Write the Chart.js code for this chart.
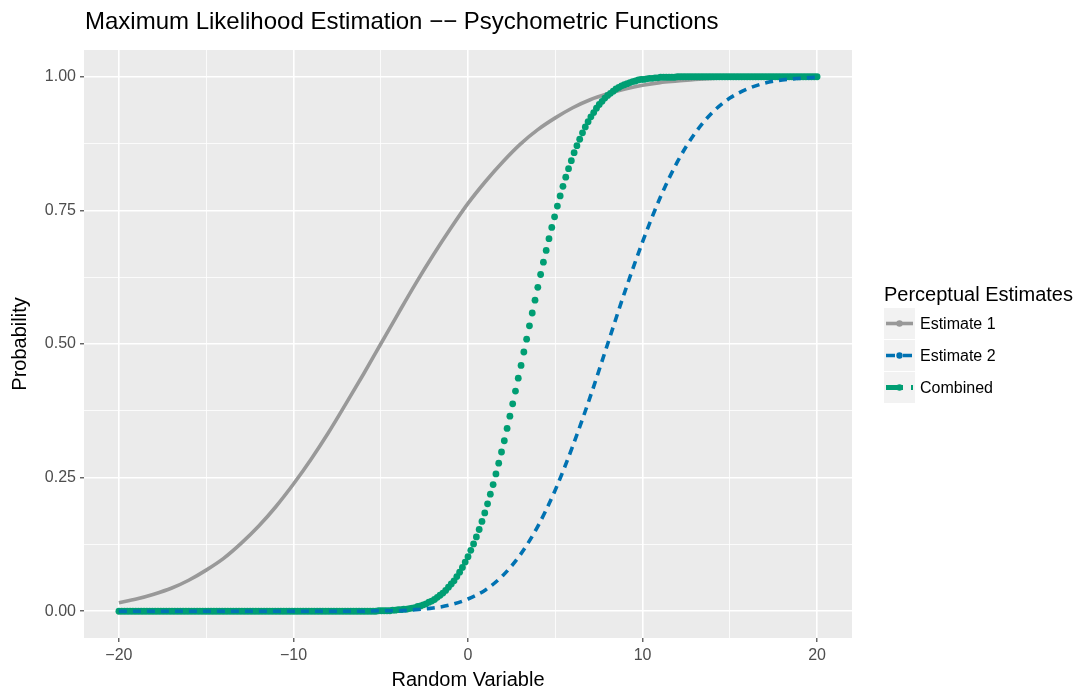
<!DOCTYPE html>
<html>
<head>
<meta charset="utf-8">
<title>Maximum Likelihood Estimation −− Psychometric Functions</title>
<script src="https://cdn.jsdelivr.net/npm/chart.js@4.4.1/dist/chart.umd.min.js"></script>
<style>
  html, body { margin: 0; padding: 0; background: #ffffff; }
  canvas { display: block; }
</style>
</head>
<body>
<canvas id="psychChart" width="1084" height="688"></canvas>
<script>
const FONT = '"Liberation Sans", Arial, Helvetica, sans-serif';

const chartTitle = 'Maximum Likelihood Estimation \u2212\u2212 Psychometric Functions';
const legendTitle = 'Perceptual Estimates';
const seriesNames = ['Estimate 1', 'Estimate 2', 'Combined'];

// single-cue estimates, one value per unit of the random variable
const cueX = [
  -20, -19, -18, -17, -16, -15, -14, -13, -12, -11,
  -10, -9, -8, -7, -6, -5, -4, -3, -2, -1,
  0, 1, 2, 3, 4, 5, 6, 7, 8, 9,
  10, 11, 12, 13, 14, 15, 16, 17, 18, 19,
  20
];
const estimate1 = [
  0.016, 0.023, 0.032, 0.043, 0.058, 0.077, 0.099, 0.127, 0.159, 0.196,
  0.238, 0.284, 0.334, 0.388, 0.443, 0.500, 0.557, 0.613, 0.666, 0.716,
  0.763, 0.804, 0.841, 0.874, 0.901, 0.923, 0.942, 0.957, 0.968, 0.977,
  0.984, 0.989, 0.992, 0.995, 0.997, 0.998, 0.999, 0.999, 1.000, 1.000,
  1.000
];
const estimate2 = [
  0, 0, 0, 0, 0, 0, 0, 0, 0, 0,
  0, 0, 0, 0, 0, 0.001, 0.001, 0.003, 0.006, 0.012,
  0.023, 0.040, 0.067, 0.106, 0.159, 0.227, 0.309, 0.401, 0.500, 0.599,
  0.691, 0.773, 0.841, 0.894, 0.933, 0.960, 0.977, 0.988, 0.994, 0.997,
  0.999
];

// combined estimate, sampled on a finer grid (drawn as points)
const combinedX = [
  -20, -19.84, -19.68, -19.52, -19.36, -19.2, -19.04, -18.88, -18.72, -18.56,
  -18.4, -18.24, -18.08, -17.92, -17.76, -17.6, -17.44, -17.28, -17.12, -16.96,
  -16.8, -16.64, -16.48, -16.32, -16.16, -16, -15.84, -15.68, -15.52, -15.36,
  -15.2, -15.04, -14.88, -14.72, -14.56, -14.4, -14.24, -14.08, -13.92, -13.76,
  -13.6, -13.44, -13.28, -13.12, -12.96, -12.8, -12.64, -12.48, -12.32, -12.16,
  -12, -11.84, -11.68, -11.52, -11.36, -11.2, -11.04, -10.88, -10.72, -10.56,
  -10.4, -10.24, -10.08, -9.92, -9.76, -9.6, -9.44, -9.28, -9.12, -8.96,
  -8.8, -8.64, -8.48, -8.32, -8.16, -8, -7.84, -7.68, -7.52, -7.36,
  -7.2, -7.04, -6.88, -6.72, -6.56, -6.4, -6.24, -6.08, -5.92, -5.76,
  -5.6, -5.44, -5.28, -5.12, -4.96, -4.8, -4.64, -4.48, -4.32, -4.16,
  -4, -3.84, -3.68, -3.52, -3.36, -3.2, -3.04, -2.88, -2.72, -2.56,
  -2.4, -2.24, -2.08, -1.92, -1.76, -1.6, -1.44, -1.28, -1.12, -0.96,
  -0.8, -0.64, -0.48, -0.32, -0.16, 0, 0.16, 0.32, 0.48, 0.64,
  0.8, 0.96, 1.12, 1.28, 1.44, 1.6, 1.76, 1.92, 2.08, 2.24,
  2.4, 2.56, 2.72, 2.88, 3.04, 3.2, 3.36, 3.52, 3.68, 3.84,
  4, 4.16, 4.32, 4.48, 4.64, 4.8, 4.96, 5.12, 5.28, 5.44,
  5.6, 5.76, 5.92, 6.08, 6.24, 6.4, 6.56, 6.72, 6.88, 7.04,
  7.2, 7.36, 7.52, 7.68, 7.84, 8, 8.16, 8.32, 8.48, 8.64,
  8.8, 8.96, 9.12, 9.28, 9.44, 9.6, 9.76, 9.92, 10.08, 10.24,
  10.4, 10.56, 10.72, 10.88, 11.04, 11.2, 11.36, 11.52, 11.68, 11.84,
  12, 12.16, 12.32, 12.48, 12.64, 12.8, 12.96, 13.12, 13.28, 13.44,
  13.6, 13.76, 13.92, 14.08, 14.24, 14.4, 14.56, 14.72, 14.88, 15.04,
  15.2, 15.36, 15.52, 15.68, 15.84, 16, 16.16, 16.32, 16.48, 16.64,
  16.8, 16.96, 17.12, 17.28, 17.44, 17.6, 17.76, 17.92, 18.08, 18.24,
  18.4, 18.56, 18.72, 18.88, 19.04, 19.2, 19.36, 19.52, 19.68, 19.84,
  20
];
const combined = [
  0, 0, 0, 0, 0, 0, 0, 0, 0, 0,
  0, 0, 0, 0, 0, 0, 0, 0, 0, 0,
  0, 0, 0, 0, 0, 0, 0, 0, 0, 0,
  0, 0, 0, 0, 0, 0, 0, 0, 0, 0,
  0, 0, 0, 0, 0, 0, 0, 0, 0, 0,
  0, 0, 0, 0, 0, 0, 0, 0, 0, 0,
  0, 0, 0, 0, 0, 0, 0, 0, 0, 0,
  0, 0, 0, 0, 0, 0, 0, 0, 0, 0,
  0, 0, 0, 0, 0, 0, 0, 0, 0, 0,
  0, 0, 0, 0.001, 0.001, 0.001, 0.001, 0.001, 0.002, 0.002,
  0.003, 0.003, 0.004, 0.004, 0.005, 0.006, 0.007, 0.009, 0.010, 0.012,
  0.014, 0.017, 0.019, 0.022, 0.026, 0.030, 0.034, 0.039, 0.045, 0.051,
  0.057, 0.065, 0.073, 0.082, 0.092, 0.102, 0.114, 0.126, 0.139, 0.153,
  0.168, 0.184, 0.201, 0.219, 0.237, 0.257, 0.277, 0.298, 0.319, 0.342,
  0.365, 0.388, 0.412, 0.436, 0.460, 0.485, 0.509, 0.534, 0.558, 0.582,
  0.606, 0.630, 0.653, 0.675, 0.697, 0.718, 0.738, 0.758, 0.777, 0.795,
  0.812, 0.828, 0.843, 0.858, 0.871, 0.883, 0.895, 0.906, 0.916, 0.925,
  0.933, 0.941, 0.948, 0.954, 0.960, 0.965, 0.969, 0.973, 0.977, 0.980,
  0.983, 0.985, 0.987, 0.989, 0.991, 0.992, 0.994, 0.995, 0.995, 0.996,
  0.997, 0.997, 0.998, 0.998, 0.999, 0.999, 0.999, 0.999, 0.999, 0.999,
  1, 1, 1, 1, 1, 1, 1, 1, 1, 1,
  1, 1, 1, 1, 1, 1, 1, 1, 1, 1,
  1, 1, 1, 1, 1, 1, 1, 1, 1, 1,
  1, 1, 1, 1, 1, 1, 1, 1, 1, 1,
  1, 1, 1, 1, 1, 1, 1, 1, 1, 1,
  1
];

// grid positions; only every other one gets a label
const xTicks = [-20, -15, -10, -5, 0, 5, 10, 15, 20];
const yTicks = [0, 0.125, 0.25, 0.375, 0.5, 0.625, 0.75, 0.875, 1];

const toPoints = (xs, ys) => xs.map((x, i) => ({ x: x, y: ys[i] }));
const isMajorX = v => v % 10 === 0;
const isMajorY = v => Math.abs(v * 4 - Math.round(v * 4)) < 1e-9;

// grey panel behind the grid, title and the legend box on the right
const panel = {
  id: 'panel',
  beforeDraw(chart) {
    const { ctx, chartArea: a } = chart;
    ctx.save();
    ctx.fillStyle = '#FFFFFF';
    ctx.fillRect(0, 0, chart.width, chart.height);
    ctx.fillStyle = '#EBEBEB';
    ctx.fillRect(a.left, a.top, a.right - a.left, a.bottom - a.top);
    ctx.restore();
  },
  afterDraw(chart) {
    const ctx = chart.ctx;
    ctx.save();
    ctx.fillStyle = '#000000';
    ctx.textAlign = 'left';
    ctx.textBaseline = 'alphabetic';
    ctx.font = '24px ' + FONT;
    ctx.fillText(chartTitle, 85, 29);

    ctx.font = '20px ' + FONT;
    ctx.fillText(legendTitle, 884, 301);

    chart.data.datasets.forEach((ds, k) => {
      const top = 308 + k * 32;
      const cy = top + 15.5;
      ctx.fillStyle = '#F2F2F2';
      ctx.fillRect(884, top, 31, 31);

      ctx.strokeStyle = ds.keyColor;
      ctx.fillStyle = ds.keyColor;
      ctx.lineCap = 'butt';
      if (ds.showLine === false) {
        ctx.lineWidth = 5;
        ctx.setLineDash([17, 8]);
      } else {
        ctx.lineWidth = 3.6;
        ctx.setLineDash(ds.borderDash ? [9, 8] : []);
      }
      ctx.beginPath();
      ctx.moveTo(886, cy);
      ctx.lineTo(913, cy);
      ctx.stroke();
      ctx.setLineDash([]);
      ctx.beginPath();
      ctx.arc(899.5, cy, 3.2, 0, Math.PI * 2);
      ctx.fill();

      ctx.fillStyle = '#000000';
      ctx.font = '16px ' + FONT;
      ctx.textBaseline = 'middle';
      ctx.fillText(ds.label, 920, cy + 1.5);
      ctx.textBaseline = 'alphabetic';
    });
    ctx.restore();
  }
};

const context = document.getElementById('psychChart').getContext('2d');
const psychChart = new Chart(context, {
  type: 'line',
  data: {
    datasets: [
      {
        label: seriesNames[0],
        data: toPoints(cueX, estimate1),
        borderColor: '#999999',
        keyColor: '#999999',
        borderWidth: 3.6,
        pointRadius: 0,
        cubicInterpolationMode: 'monotone',
        order: 3
      },
      {
        label: seriesNames[1],
        data: toPoints(cueX, estimate2),
        borderColor: '#0072B2',
        keyColor: '#0072B2',
        borderWidth: 3.6,
        borderDash: [8, 6],
        pointRadius: 0,
        cubicInterpolationMode: 'monotone',
        order: 1
      },
      {
        label: seriesNames[2],
        data: toPoints(combinedX, combined),
        showLine: false,
        keyColor: '#009E73',
        pointRadius: 3.4,
        pointBorderWidth: 0,
        pointBackgroundColor: '#009E73',
        order: 2
      }
    ]
  },
  options: {
    responsive: false,
    animation: false,
    devicePixelRatio: 1,
    layout: { padding: { left: 10, right: 232, top: 50, bottom: 0 } },
    plugins: {
      legend: { display: false },
      title: { display: false },
      tooltip: { enabled: false }
    },
    scales: {
      x: {
        type: 'linear',
        min: -22,
        max: 22,
        afterBuildTicks: scale => { scale.ticks = xTicks.map(v => ({ value: v })); },
        afterFit: scale => { scale.height = 50; },
        border: { display: false },
        grid: {
          color: '#FFFFFF',
          lineWidth: ctx => (ctx.tick && isMajorX(ctx.tick.value) ? 1.6 : 0.8),
          tickColor: ctx => (ctx.tick && isMajorX(ctx.tick.value) ? '#333333' : 'rgba(0,0,0,0)'),
          tickWidth: 1.1,
          tickLength: 4
        },
        ticks: {
          autoSkip: false,
          maxRotation: 0,
          padding: 4,
          color: '#4D4D4D',
          font: { family: FONT, size: 16 },
          callback: v => (isMajorX(v) ? String(v).replace('-', '\u2212') : '')
        },
        title: {
          display: true,
          text: 'Random Variable',
          color: '#000000',
          padding: 0,
          font: { family: FONT, size: 20, lineHeight: 0.8 }
        }
      },
      y: {
        type: 'linear',
        min: -0.05,
        max: 1.05,
        afterBuildTicks: scale => { scale.ticks = yTicks.map(v => ({ value: v })); },
        afterFit: scale => { scale.width = 74; },
        border: { display: false },
        grid: {
          color: '#FFFFFF',
          lineWidth: ctx => (ctx.tick && isMajorY(ctx.tick.value) ? 1.6 : 0.8),
          tickColor: ctx => (ctx.tick && isMajorY(ctx.tick.value) ? '#333333' : 'rgba(0,0,0,0)'),
          tickWidth: 1.1,
          tickLength: 4
        },
        ticks: {
          autoSkip: false,
          padding: 4,
          color: '#4D4D4D',
          font: { family: FONT, size: 16 },
          callback: v => (isMajorY(v) ? v.toFixed(2) : '')
        },
        title: {
          display: true,
          text: 'Probability',
          color: '#000000',
          padding: 0,
          font: { family: FONT, size: 20, lineHeight: 1 }
        }
      }
    }
  },
  plugins: [panel]
});
</script>
</body>
</html>
